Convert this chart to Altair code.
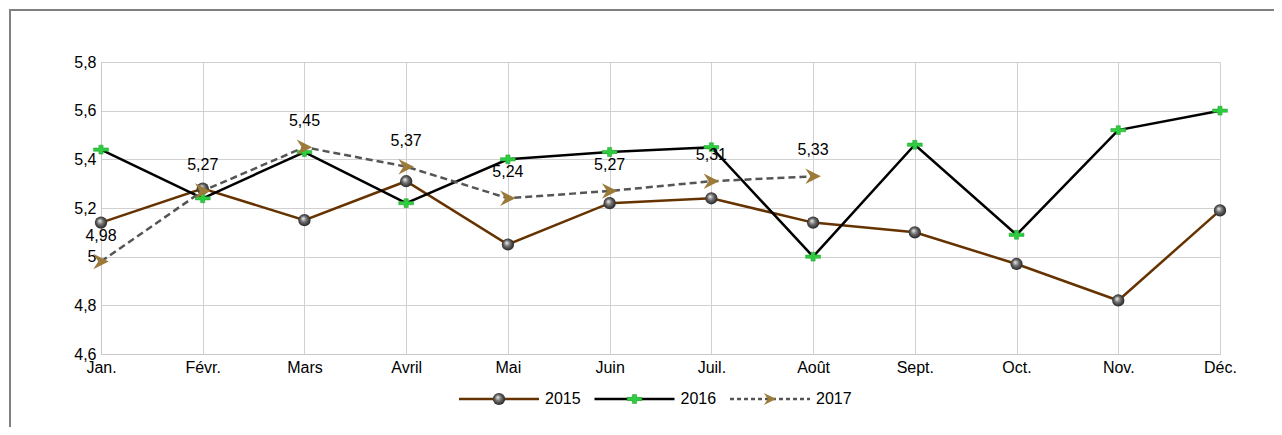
import altair as alt
import pandas as pd

months = ["Jan.", "Févr.", "Mars", "Avril", "Mai", "Juin", "Juil.", "Août", "Sept.", "Oct.", "Nov.", "Déc."]
v2015 = [5.14, 5.28, 5.15, 5.31, 5.05, 5.22, 5.24, 5.14, 5.10, 4.97, 4.82, 5.19]
v2016 = [5.44, 5.24, 5.43, 5.22, 5.40, 5.43, 5.45, 5.00, 5.46, 5.09, 5.52, 5.60]
v2017 = [4.98, 5.27, 5.45, 5.37, 5.24, 5.27, 5.31, 5.33]
series_names = ["2015", "2016", "2017"]
y_ticks = [4.6, 4.8, 5.0, 5.2, 5.4, 5.6, 5.8]

FONT = "Liberation Sans"
W, H = 1119, 292

def frame(vals, name):
    return pd.DataFrame({"mois": months[:len(vals)], "v": vals, "serie": name})

d15 = frame(v2015, "2015")
d16 = frame(v2016, "2016")
d17 = frame(v2017, "2017")

xenc = alt.X("mois:O", sort=months,
             scale=alt.Scale(type="point", padding=0, domain=months),
             axis=alt.Axis(title=None, labelAngle=0, grid=True, gridColor="#d0d0d0",
                           domainColor="#c8c8c8", ticks=False, labelPadding=5,
                           labelFont=FONT, labelFontSize=16, labelColor="#000"))
yenc = alt.Y("v:Q", scale=alt.Scale(domain=[4.6, 5.8], nice=False, zero=False),
             axis=alt.Axis(title=None, values=y_ticks, grid=True, gridColor="#d0d0d0",
                           domainColor="#c8c8c8", ticks=False, labelPadding=5,
                           labelFont=FONT, labelFontSize=16, labelColor="#000",
                           labelExpr="replace(format(datum.value, '~g'), '.', ',')"))

sphere = alt.RadialGradient(
    gradient="radial", x1=0.38, y1=0.35, r1=0.0, x2=0.5, y2=0.5, r2=0.55,
    stops=[alt.GradientStop(color="#f4f4f4", offset=0),
           alt.GradientStop(color="#707070", offset=0.45),
           alt.GradientStop(color="#1a1a1a", offset=1)])

cross_path = "M-1,-0.22 L-0.28,-0.22 L-0.28,-0.6 L0.28,-0.6 L0.28,-0.22 L1,-0.22 L1,0.22 L0.28,0.22 L0.28,0.6 L-0.28,0.6 L-0.28,0.22 L-1,0.22 Z"
arrow_path = "M-1,-1 L1,0 L-1,1 L-0.35,0 Z"
ARROW = "#9c7a3a"

styles = {
    "2015": dict(line=dict(color="#663300", strokeWidth=2.5),
                 pt=dict(filled=True, fill=sphere, size=150, opacity=1, strokeWidth=0)),
    "2016": dict(line=dict(color="#000000", strokeWidth=2.5),
                 pt=dict(shape=cross_path, filled=True, color="#2ecc40", stroke="#1f9a2a",
                         strokeWidth=0.5, size=220, opacity=1)),
    "2017": dict(line=dict(color="#555555", strokeWidth=2.5, strokeDash=[7, 4]),
                 pt=dict(shape=arrow_path, filled=True, color=ARROW, size=240, opacity=1)),
}

layers = []
border = alt.Chart(pd.DataFrame({"a": [0]})).mark_rect(fill=None, stroke="#808080", strokeWidth=2).encode(
    x=alt.value(-91), x2=alt.value(W + 200), y=alt.value(-52), y2=alt.value(H + 200))
layers.append(border)

for df, s in [(d15, "2015"), (d16, "2016"), (d17, "2017")]:
    layers.append(alt.Chart(df).mark_line(**styles[s]["line"]).encode(x=xenc, y=yenc))
for df, s in [(d15, "2015"), (d16, "2016"), (d17, "2017")]:
    layers.append(alt.Chart(df).mark_point(**styles[s]["pt"]).encode(x=xenc, y=yenc))

layers.append(alt.Chart(d17).transform_calculate(lab="replace(format(datum.v, '.2f'), '.', ',')").mark_text(
    font=FONT, fontSize=16, color="#000", dy=-26, baseline="middle").encode(x=xenc, y=yenc, text="lab:N"))

# manual legend (line + marker + label) laid out below the plot
leg_start, leg_step, leg_len, leg_y = 358, 135.5, 80, 337
legend_styles = {
    "2015": styles["2015"]["pt"],
    "2016": styles["2016"]["pt"],
    "2017": dict(shape=arrow_path, filled=True, color=ARROW, size=150, opacity=1),
}
legend_lines = {
    "2015": styles["2015"]["line"],
    "2016": styles["2016"]["line"],
    "2017": dict(color="#555555", strokeWidth=2.5, strokeDash=[4, 3]),
}
for i, s in enumerate(series_names):
    x0 = leg_start + i * leg_step
    ls = alt.Chart(pd.DataFrame({"serie": [s]}))
    layers.append(ls.mark_rule(**legend_lines[s]).encode(
        x=alt.value(x0), x2=alt.value(x0 + leg_len), y=alt.value(leg_y)))
    layers.append(ls.mark_point(**legend_styles[s]).encode(
        x=alt.value(x0 + leg_len / 2), y=alt.value(leg_y)))
    layers.append(ls.mark_text(font=FONT, fontSize=16, color="#000", align="left", baseline="middle").encode(
        x=alt.value(x0 + leg_len + 6), y=alt.value(leg_y), text="serie:N"))

chart = alt.layer(*layers).properties(
    width=W, height=H,
    padding={"left": 93, "top": 54, "right": 54, "bottom": 73},
    autosize=alt.AutoSizeParams(type="none"),
).configure_view(stroke=None).configure(background="white")

chart.save("out.html", embed_options={"renderer": "svg", "actions": False})
